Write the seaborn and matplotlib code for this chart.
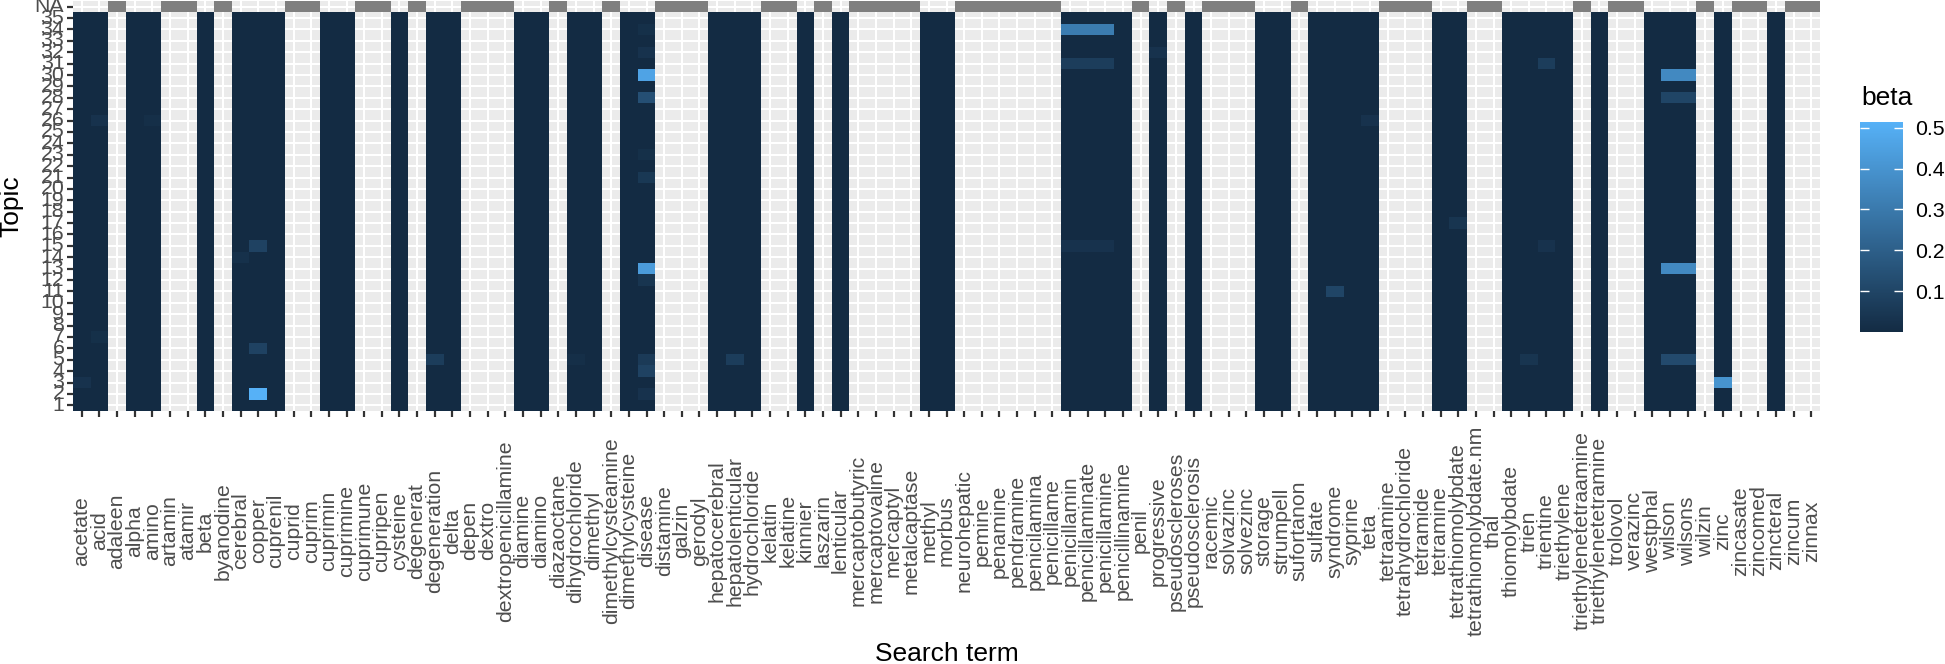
# Topic x search-term beta heatmap, ggplot-like look
import numpy as np
import pandas as pd
import matplotlib
matplotlib.use("Agg")
import matplotlib.pyplot as plt
from matplotlib.colors import LinearSegmentedColormap, ListedColormap
import seaborn as sns

terms = [
    "acetate", "acid", "adaleen", "alpha", "amino", "artamin", "atamir", "beta",
    "byanodine", "cerebral", "copper", "cuprenil", "cuprid", "cuprim", "cuprimin",
    "cuprimine", "cuprimune", "cupripen", "cysteine", "degenerat", "degeneration",
    "delta", "depen", "dextro", "dextropenicillamine", "diamine", "diamino",
    "diazaoctane", "dihydrochloride", "dimethyl", "dimethylcysteamine",
    "dimethylcysteine", "disease", "distamine", "galzin", "gerodyl",
    "hepatocerebral", "hepatolenticular", "hydrochloride", "kelatin", "kelatine",
    "kinnier", "laszarin", "lenticular", "mercaptobutyric", "mercaptovaline",
    "mercaptyl", "metalcaptase", "methyl", "morbus", "neurohepatic", "pemine",
    "penamine", "pendramine", "penicilamina", "penicillame", "penicillamin",
    "penicillaminate", "penicillamine", "penicillinamine", "penil", "progressive",
    "pseudoscleroses", "pseudosclerosis", "racemic", "solvazinc", "solvezinc",
    "storage", "strumpell", "sufortanon", "sulfate", "syndrome", "syprine", "teta",
    "tetraamine", "tetrahydrochloride", "tetramide", "tetramine",
    "tetrathiomolybdate", "tetrathiomolybdate.nm", "thal", "thiomolybdate", "trien",
    "trientine", "triethylene", "triethylenetetraamine", "triethylenetetramine",
    "trolovol", "verazinc", "westphal", "wilson", "wilsons", "wilzin", "zinc",
    "zincasate", "zincomed", "zincteral", "zincum", "zinnax",
]

topics = list(range(1, 36))

# terms that got a beta for every topic (the rest only show up in the NA row)
present_terms = [
    "acetate", "acid", "alpha", "amino", "beta", "cerebral", "copper", "cuprenil",
    "cuprimin", "cuprimine", "cysteine", "degeneration", "delta", "diamine",
    "diamino", "dihydrochloride", "dimethyl", "dimethylcysteine", "disease",
    "hepatocerebral", "hepatolenticular", "hydrochloride", "kinnier", "lenticular",
    "methyl", "morbus", "penicillamin", "penicillaminate", "penicillamine",
    "penicillinamine", "progressive", "pseudosclerosis", "storage", "strumpell",
    "sulfate", "syndrome", "syprine", "teta", "tetramine", "tetrathiomolybdate",
    "thiomolybdate", "trien", "trientine", "triethylene", "triethylenetetramine",
    "westphal", "wilson", "wilsons", "zinc", "zincteral",
]
base_beta = 0.001

# cells that stand out from the dark background
hl_terms = [
    "copper", "copper", "copper", "acetate", "acid", "acid", "amino", "cerebral",
    "disease", "disease", "disease", "disease", "disease", "disease", "disease",
    "disease", "disease", "disease", "disease",
    "degeneration", "hepatolenticular", "dihydrochloride",
    "penicillamin", "penicillaminate", "penicillamine",
    "penicillamin", "penicillaminate", "penicillamine",
    "penicillamin", "penicillaminate", "penicillamine",
    "progressive", "teta", "syndrome", "trientine", "trientine", "trien",
    "tetrathiomolybdate",
    "wilson", "wilsons", "wilson", "wilsons", "wilson", "wilsons", "wilson", "wilsons",
    "zinc",
]
hl_topics = [
    2, 6, 15, 3, 26, 7, 26, 14,
    30, 13, 28, 4, 5, 21, 32, 12, 23, 2, 34,
    5, 5, 5,
    34, 34, 34,
    31, 31, 31,
    15, 15, 15,
    32, 26, 11, 31, 15, 5,
    17,
    30, 30, 13, 13, 28, 28, 5, 5,
    3,
]
hl_betas = [
    0.514, 0.09, 0.09, 0.03, 0.03, 0.02, 0.015, 0.025,
    0.46, 0.43, 0.14, 0.09, 0.06, 0.05, 0.03, 0.04, 0.02, 0.03, 0.02,
    0.07, 0.07, 0.015,
    0.31, 0.31, 0.31,
    0.07, 0.07, 0.07,
    0.03, 0.03, 0.03,
    0.03, 0.03, 0.1, 0.07, 0.03, 0.04,
    0.04,
    0.36, 0.36, 0.36, 0.36, 0.1, 0.1, 0.12, 0.12,
    0.4,
]

row_labels = ["NA"] + [str(t) for t in reversed(topics)]
topic_rows = [str(t) for t in topics]

beta = pd.DataFrame(np.nan, index=row_labels, columns=terms)
beta.loc[topic_rows, present_terms] = base_beta
for term, topic, b in zip(hl_terms, hl_topics, hl_betas):
    beta.loc[str(topic), term] = b

na_tiles = pd.DataFrame(np.nan, index=row_labels, columns=terms)
na_tiles.loc["NA", [t for t in terms if t not in present_terms]] = 1.0

plt.rcParams["font.family"] = ["Liberation Sans", "DejaVu Sans"]

W, H = 1945, 664
fig = plt.figure(figsize=(W / 100, H / 100), dpi=100)
ax = fig.add_axes([73 / W, 1 - 411 / H, (1820 - 73) / W, 410 / H])
cax = fig.add_axes([1860 / W, 1 - 332 / H, 43 / W, 210 / H])
ax.set_facecolor("#EBEBEB")

gg_blue = LinearSegmentedColormap.from_list("gg", ["#132B43", "#56B1F7"])

sns.heatmap(na_tiles, ax=ax, cmap=ListedColormap(["#7F7F7F"]), vmin=0, vmax=1,
            cbar=False, xticklabels=terms, yticklabels=row_labels)
sns.heatmap(beta, ax=ax, cmap=gg_blue, vmin=0, vmax=0.514, cbar_ax=cax,
            xticklabels=terms, yticklabels=row_labels)

ax.set_axisbelow(True)
ax.grid(True, color="white", linewidth=1.5)
for s in ax.spines.values():
    s.set_visible(False)

ax.set_xlabel("")
ax.set_ylabel("")
ax.set_yticklabels(row_labels, rotation=0, fontsize=15.3, color="#4D4D4D")
ax.set_xticklabels(terms, rotation=90, fontsize=15.3, color="#4D4D4D")
for lab in ax.get_xticklabels():
    lab.set_va("center")
    lab.set_ha("center")
ax.tick_params(axis="x", length=4.3, width=1.6, color="#333333", pad=82)
ax.tick_params(axis="y", length=4.3, width=1.6, color="#333333", pad=2)

fig.text(946.5 / W, 1 - 654 / H, "Search term", ha="center", va="center", fontsize=19)
fig.text(11 / W, 1 - 206 / H, "Topic", ha="center", va="center", rotation=90, fontsize=19)
fig.text(1861 / W, 1 - 98 / H, "beta", ha="left", va="center", fontsize=19)

cbar = ax.collections[-1].colorbar
cbar.outline.set_visible(False)
cbar.set_ticks([0.1, 0.2, 0.3, 0.4, 0.5])
cbar.set_ticklabels(["0.1", "0.2", "0.3", "0.4", "0.5"])
cax.yaxis.set_ticks_position("both")
cax.tick_params(axis="y", direction="in", length=6.5, width=1, color="white",
                labelcolor="black", labelsize=15.3, pad=9,
                labelleft=False, labelright=True)
cax.minorticks_off()

fig.savefig("out.png", dpi=100)
